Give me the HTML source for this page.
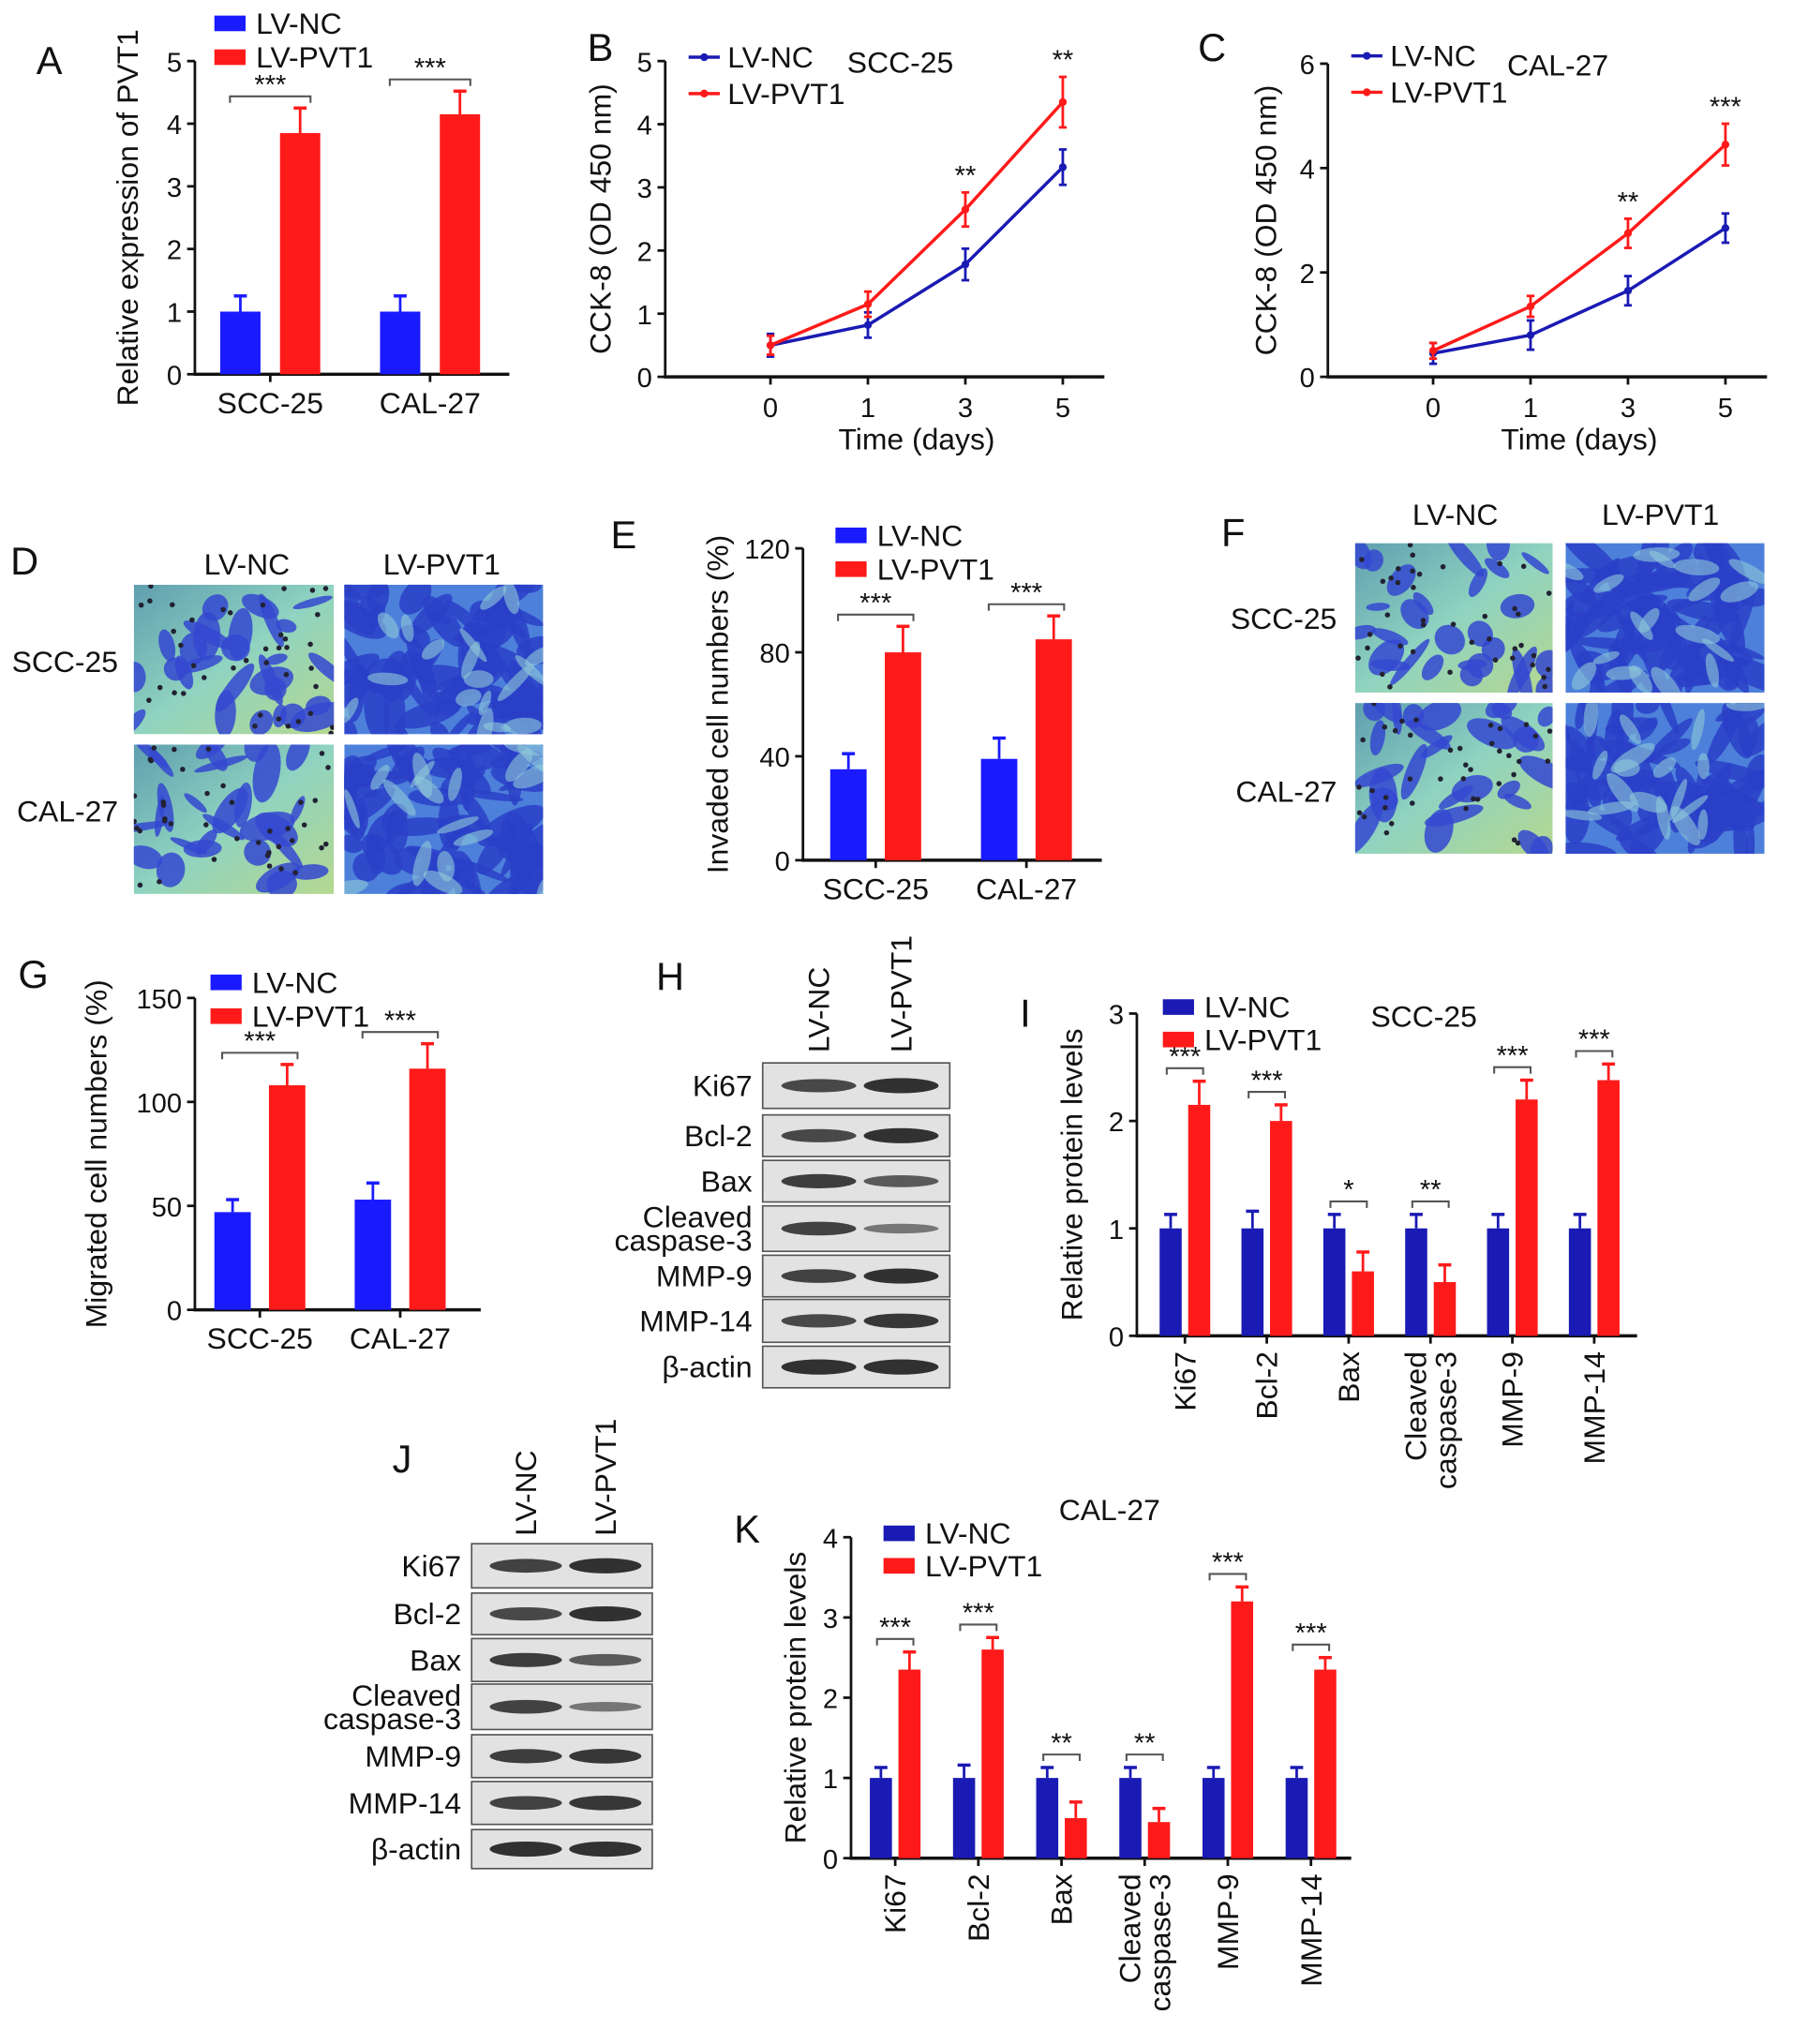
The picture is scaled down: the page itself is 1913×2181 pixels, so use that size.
<!DOCTYPE html>
<html><head><meta charset="utf-8"><style>
html,body{margin:0;padding:0;background:#fff;}
svg{display:block;font-family:"Liberation Sans",Arial,sans-serif;}
</style></head><body>
<svg id="fig" width="1913" height="2181" viewBox="0 0 1380 1573" preserveAspectRatio="none" xmlns="http://www.w3.org/2000/svg">
<defs>
<linearGradient id="bgNC" x1="0" y1="0" x2="1" y2="1"><stop offset="0" stop-color="#5f9fb0"/><stop offset="0.5" stop-color="#8fd3c0"/><stop offset="1" stop-color="#b5d890"/></linearGradient>
</defs>
<g id="root"></g>
</svg>
<script>
// ---- data ----
const aCats = ["SCC-25","CAL-27"];
const aNC = [1.0, 1.0];
const aNCerr = [0.25, 0.25];
const aPV = [3.85, 4.15];
const aPVerr = [0.4, 0.37];
const aTicks = [0,1,2,3,4,5];

const bDays = ["0","1","3","5"];
const bNC = [0.5, 0.82, 1.78, 3.32];
const bNCerr = [0.18, 0.2, 0.25, 0.28];
const bPV = [0.5, 1.15, 2.65, 4.35];
const bPVerr = [0.15, 0.2, 0.27, 0.4];
const bTicks = [0,1,2,3,4,5];

const cDays = ["0","1","3","5"];
const cNC = [0.45, 0.8, 1.65, 2.85];
const cNCerr = [0.2, 0.28, 0.28, 0.28];
const cPV = [0.5, 1.35, 2.75, 4.45];
const cPVerr = [0.15, 0.2, 0.28, 0.4];
const cTicks = [0,2,4,6];

const eCats = ["SCC-25","CAL-27"];
const eNC = [35, 39];
const eNCerr = [6, 8];
const ePV = [80, 85];
const ePVerr = [10, 9];
const eTicks = [0,40,80,120];

const gCats = ["SCC-25","CAL-27"];
const gNC = [47, 53];
const gNCerr = [6, 8];
const gPV = [108, 116];
const gPVerr = [10, 12];
const gTicks = [0,50,100,150];

const pCats = ["Ki67","Bcl-2","Bax","Cleaved caspase-3","MMP-9","MMP-14"];
const iNC = [1,1,1,1,1,1];
const iNCerr = [0.13,0.16,0.13,0.13,0.13,0.13];
const iPV = [2.15,2.0,0.6,0.5,2.2,2.38];
const iPVerr = [0.22,0.15,0.18,0.16,0.18,0.15];
const iStars = ["***","***","*","**","***","***"];
const iTicks = [0,1,2,3];

const kNC = [1,1,1,1,1,1];
const kNCerr = [0.13,0.16,0.13,0.13,0.13,0.13];
const kPV = [2.35,2.6,0.5,0.45,3.2,2.35];
const kPVerr = [0.22,0.15,0.2,0.17,0.18,0.15];
const kStars = ["***","***","**","**","***","***"];
const kTicks = [0,1,2,3,4];

const blotRows = ["Ki67","Bcl-2","Bax","Cleaved caspase-3","MMP-9","MMP-14","β-actin"];
const blotH_NC = [0.75,0.75,0.85,0.8,0.8,0.75,0.95];
const blotH_PV = [0.95,0.95,0.6,0.35,0.95,0.9,0.95];
const blotJ_NC = [0.8,0.75,0.85,0.8,0.85,0.8,0.95];
const blotJ_PV = [0.95,0.95,0.6,0.35,0.9,0.9,0.95];

// ---- helpers ----
const NS="http://www.w3.org/2000/svg";
const root=document.getElementById('root');
const FS=23, TS=21;
function el(tag,attrs,parent){const e=document.createElementNS(NS,tag);for(const k in attrs)e.setAttribute(k,attrs[k]);(parent||root).appendChild(e);return e;}
function txt(x,y,s,size,anchor,parent,extra){const t=el('text',Object.assign({x:x,y:y,'font-size':size,'text-anchor':anchor||'start',fill:'#111'},extra||{}),parent);t.textContent=s;return t;}
const BLUE='#1a1aff', RED='#ff1a1a', DBLUE='#1a1ab4';

function yAxis(g,x,y0,yTop,ticks,vmax,title,titleX){
  const ax=el('g',{},g);
  
  
  el('line',{x1:x,y1:y0+1,x2:x,y2:yTop,stroke:'#111','stroke-width':2},ax);
  ticks.forEach(v=>{const y=y0-(y0-yTop)*v/vmax;
    el('line',{x1:x-6,y1:y,x2:x,y2:y,stroke:'#111','stroke-width':2},ax);
    txt(x-10,y+8,String(v),TS,'end',ax);});
  const mid=(y0+yTop)/2;
  const t=txt(titleX,mid,title,FS,'middle',ax,{transform:`rotate(-90 ${titleX} ${mid})`});
  
  
}
function legendBars(g,x,y,c1,c2,s1,s2,gap){
  const lg=el('g',{},g);
  
  
  el('rect',{x:x,y:y-12,width:24,height:12,fill:c1},lg); txt(x+32,y+2,s1,FS,'start',lg);
  el('rect',{x:x,y:y-12+gap,width:24,height:12,fill:c2},lg); txt(x+32,y+2+gap,s2,FS,'start',lg);
}
function errUp(g,x,yv,ye,col){
  el('line',{x1:x,y1:yv,x2:x,y2:ye,stroke:col,'stroke-width':2},g);
  el('line',{x1:x-5,y1:ye,x2:x+5,y2:ye,stroke:col,'stroke-width':2.5},g);
}
function bracket(g,x1,x2,y,stars){
  el('path',{d:`M${x1} ${y+5} V${y} H${x2} V${y+5}`,fill:'none',stroke:'#555','stroke-width':1.5},g);
  txt((x1+x2)/2,y-2,stars,21,'middle',g);
}
function barChart2(o){
  const g=el('g',{});
  
  
  const sc=v=>o.y0-(o.y0-o.yTop)*v/o.vmax;
  yAxis(g,o.x,o.y0,o.yTop,o.ticks,o.vmax,o.title,o.titleX);
  el('line',{x1:o.x-1,y1:o.y0,x2:o.xEnd,y2:o.y0,stroke:'#111','stroke-width':2.5},g);
  o.cats.forEach((c,i)=>{
    const cx=o.c0+i*o.step;
    const x1=cx-o.gap/2-o.bw/2, x2=cx+o.gap/2+o.bw/2;
    const b1=el('rect',{x:x1-o.bw/2,y:sc(o.nc[i]),width:o.bw,height:o.y0-sc(o.nc[i]),fill:o.c1},g);
    
    
    errUp(g,x1,sc(o.nc[i]),sc(o.nc[i]+o.ncE[i]),o.c1);
    const b2=el('rect',{x:x2-o.bw/2,y:sc(o.pv[i]),width:o.bw,height:o.y0-sc(o.pv[i]),fill:o.c2},g);
    
    
    errUp(g,x2,sc(o.pv[i]),sc(o.pv[i]+o.pvE[i]),o.c2);
    el('line',{x1:cx,y1:o.y0,x2:cx,y2:o.y0+6,stroke:'#111','stroke-width':2},g);
    const t=txt(cx,o.y0+30,c,FS,'middle',g);
    
    
    const top=sc(o.pv[i]+o.pvE[i]);
    bracket(g,x1-8,x2+8,top-9,'***');
  });
  legendBars(g,o.lx,o.ly,o.c1,o.c2,'LV-NC','LV-PVT1',26);
  return g;
}
function lineChart(o){
  const g=el('g',{});
  
  
  const sc=v=>o.y0-(o.y0-o.yTop)*v/o.vmax;
  yAxis(g,o.x,o.y0,o.yTop,o.ticks,o.vmax,'CCK-8 (OD 450 nm)',o.titleX);
  el('line',{x1:o.x-1,y1:o.y0,x2:o.xEnd,y2:o.y0,stroke:'#111','stroke-width':2.5},g);
  const xs=o.days.map((d,i)=>o.c0+i*o.step);
  o.days.forEach((d,i)=>{el('line',{x1:xs[i],y1:o.y0,x2:xs[i],y2:o.y0+6,stroke:'#111','stroke-width':2},g);
    txt(xs[i],o.y0+31,d,TS,'middle',g);});
  txt((xs[0]+xs[3])/2,o.y0+56,'Time (days)',FS,'middle',g);
  [[o.nc,o.ncE,DBLUE,'lv-nc'],[o.pv,o.pvE,RED,'lv-pvt1']].forEach(([vals,errs,col,nm])=>{
    const p=el('polyline',{points:vals.map((v,i)=>xs[i]+','+sc(v)).join(' '),fill:'none',stroke:col,'stroke-width':2.5},g);
    
    
    vals.forEach((v,i)=>{
      el('line',{x1:xs[i],y1:sc(v-errs[i]),x2:xs[i],y2:sc(v+errs[i]),stroke:col,'stroke-width':2},g);
      el('line',{x1:xs[i]-3,y1:sc(v-errs[i]),x2:xs[i]+3,y2:sc(v-errs[i]),stroke:col,'stroke-width':2},g);
      el('line',{x1:xs[i]-3,y1:sc(v+errs[i]),x2:xs[i]+3,y2:sc(v+errs[i]),stroke:col,'stroke-width':2},g);
      const pt=el('circle',{cx:xs[i],cy:sc(v),r:3,fill:col},g);
      
      
    });
  });
  o.stars.forEach((s,i)=>{if(s){txt(xs[i],sc(o.pv[i]+o.pvE[i])-6,s,21,'middle',g);}});
  const lg=el('g',{},g);
  
  
  el('line',{x1:o.lx,y1:o.ly,x2:o.lx+24,y2:o.ly,stroke:DBLUE,'stroke-width':2.5},lg);
  el('circle',{cx:o.lx+12,cy:o.ly,r:3,fill:DBLUE},lg);
  txt(o.lx+30,o.ly+8,'LV-NC',FS,'start',lg);
  el('line',{x1:o.lx,y1:o.ly+28,x2:o.lx+24,y2:o.ly+28,stroke:RED,'stroke-width':2.5},lg);
  el('circle',{cx:o.lx+12,cy:o.ly+28,r:3,fill:RED},lg);
  txt(o.lx+30,o.ly+36,'LV-PVT1',FS,'start',lg);
  txt(o.tx,o.ty,o.cell,FS,'start',g);
}
function proteinChart(o){
  const g=el('g',{});
  
  
  const sc=v=>o.y0-(o.y0-o.yTop)*v/o.vmax;
  yAxis(g,o.x,o.y0,o.yTop,o.ticks,o.vmax,'Relative protein levels',o.titleX);
  el('line',{x1:o.x-1,y1:o.y0,x2:o.xEnd,y2:o.y0,stroke:'#111','stroke-width':2.5},g);
  pCats.forEach((c,i)=>{
    const cx=o.c0+i*o.step, bw=17;
    const x1=cx-11, x2=cx+11;
    const b1=el('rect',{x:x1-bw/2,y:sc(o.nc[i]),width:bw,height:o.y0-sc(o.nc[i]),fill:DBLUE},g);
    
    
    errUp(g,x1,sc(o.nc[i]),sc(o.nc[i]+o.ncE[i]),DBLUE);
    const b2=el('rect',{x:x2-bw/2,y:sc(o.pv[i]),width:bw,height:o.y0-sc(o.pv[i]),fill:RED},g);
    
    
    errUp(g,x2,sc(o.pv[i]),sc(o.pv[i]+o.pvE[i]),RED);
    el('line',{x1:cx,y1:o.y0,x2:cx,y2:o.y0+6,stroke:'#111','stroke-width':2},g);
    const top=Math.max(o.nc[i]+o.ncE[i],o.pv[i]+o.pvE[i]);
    bracket(g,x1-3,x2+3,sc(top)-10,o.stars[i]);
    const lines=c.indexOf(' ')>0?c.split(' '):[c];
    const ly=o.y0+12;
    lines.forEach((s,k)=>{
      const lx=cx+8+(k-(lines.length-1)/2)*23;
      const t=txt(lx,ly,s,FS,'end',g,{transform:`rotate(-90 ${lx} ${ly})`});
      
      
    });
  });
  legendBars(g,o.lx,o.ly,DBLUE,RED,'LV-NC','LV-PVT1',25);
  txt(o.tx,o.ty,o.cell,FS,'start',g);
}
function blot(o){
  const g=el('g',{});
  
  
  blotRows.forEach((r,i)=>{
    const y=o.rows[i][0], h=o.rows[i][1]-o.rows[i][0];
    const box=el('rect',{x:o.x,y:y,width:o.w,height:h,fill:'#e2e2e2',stroke:'#555','stroke-width':1.2},g);
    
    
    [[o.nc[i],o.x+o.w*0.3],[o.pv[i],o.x+o.w*0.74]].forEach(([s,cx])=>{
      const bh=5+7*s;
      el('ellipse',{cx:cx,cy:y+h/2,rx:o.w*0.2,ry:bh/2,fill:'#222','fill-opacity':0.35+0.6*s},g);
    });
    const parts=r==='Cleaved caspase-3'?['Cleaved','caspase-3']:[r];
    parts.forEach((p,k)=>txt(o.x-8,y+h/2+8+(parts.length>1?(k-0.5)*18:0),p,FS,'end',g));
  });
  [['LV-NC',o.x+o.w*0.3],['LV-PVT1',o.x+o.w*0.74]].forEach(([s,cx])=>{
    txt(cx+8,o.hy,s,FS,'start',g,{transform:`rotate(-90 ${cx+8} ${o.hy})`});
  });
}
// cell-image panels (decorative)
let seed=7;function rnd(){seed=(seed*16807)%2147483647;return seed/2147483647;}
function cellImg(x,y,w,h,dense,name){
  const g=el('g',{});
  
  
  const cp=el('clipPath',{id:'cp'+name},g);
  el('rect',{x:x,y:y,width:w,height:h},cp);
  const gg=el('g',{'clip-path':`url(#cp${name})`},g);
  el('rect',{x:x,y:y,width:w,height:h,fill:dense?'#4d80da':'url(#bgNC)'},gg);
  const n=dense?70:28;
  for(let i=0;i<n;i++){
    const cx=x+rnd()*w, cy=y+rnd()*h, rx=8+rnd()*(dense?22:16), ry=3+rnd()*8, a=rnd()*180;
    el('ellipse',{cx:cx,cy:cy,rx:rx,ry:ry,fill:dense?'#2a3fc8':'#3448d0','fill-opacity':0.85,transform:`rotate(${a} ${cx} ${cy})`},gg);
  }
  if(dense){for(let i=0;i<18;i++){const cx=x+rnd()*w, cy=y+rnd()*h;
    el('ellipse',{cx:cx,cy:cy,rx:10+rnd()*10,ry:3+rnd()*4,fill:'#8fc9d8','fill-opacity':0.6,transform:`rotate(${rnd()*180} ${cx} ${cy})`},gg);}}
  else{for(let i=0;i<40;i++){el('circle',{cx:x+rnd()*w,cy:y+rnd()*h,r:2,fill:'#223'},gg);}}
}

// ---- panel letters ----
[['A',28,57],['B',452,47],['C',922,47],['D',8,442],['E',470,422],['F',940,420],['G',14,760],['H',505,762],['I',785,790],['J',302,1133],['K',565,1187]].forEach(([s,x,y])=>{
  const t=txt(x,y,s,30,'start');
  
  
});

barChart2({name:'panel-a-chart',x:150,y0:288,yTop:47,vmax:5,ticks:aTicks,title:'Relative expression of PVT1',titleX:106,xEnd:392,cats:aCats,c0:208,step:123,bw:31,gap:15,nc:aNC,ncE:aNCerr,pv:aPV,pvE:aPVerr,c1:BLUE,c2:RED,lx:165,ly:24});
lineChart({name:'panel-b-chart',x:512,y0:290,yTop:47,vmax:5,ticks:bTicks,titleX:470,xEnd:850,days:bDays,c0:593,step:75,nc:bNC,ncE:bNCerr,pv:bPV,pvE:bPVerr,stars:["","","**","**"],lx:530,ly:44,tx:652,ty:56,cell:'SCC-25'});
lineChart({name:'panel-c-chart',x:1022,y0:290,yTop:49,vmax:6,ticks:cTicks,titleX:982,xEnd:1360,days:cDays,c0:1103,step:75,nc:cNC,ncE:cNCerr,pv:cPV,pvE:cPVerr,stars:["","","**","***"],lx:1040,ly:43,tx:1160,ty:58,cell:'CAL-27'});
barChart2({name:'panel-e-chart',x:618,y0:662,yTop:422,vmax:120,ticks:eTicks,title:'Invaded cell numbers (%)',titleX:560,xEnd:848,cats:eCats,c0:674,step:116,bw:28,gap:14,nc:eNC,ncE:eNCerr,pv:ePV,pvE:ePVerr,c1:BLUE,c2:RED,lx:643,ly:418});
barChart2({name:'panel-g-chart',x:150,y0:1008,yTop:768,vmax:150,ticks:gTicks,title:'Migrated cell numbers (%)',titleX:82,xEnd:370,cats:gCats,c0:200,step:108,bw:28,gap:14,nc:gNC,ncE:gNCerr,pv:gPV,pvE:gPVerr,c1:BLUE,c2:RED,lx:162,ly:762});
proteinChart({name:'panel-i-chart',x:875,y0:1028,yTop:780,vmax:3,ticks:iTicks,titleX:833,xEnd:1260,c0:912,step:63,nc:iNC,ncE:iNCerr,pv:iPV,pvE:iPVerr,stars:iStars,lx:895,ly:781,tx:1055,ty:790,cell:'SCC-25'});
proteinChart({name:'panel-k-chart',x:655,y0:1430,yTop:1183,vmax:4,ticks:kTicks,titleX:620,xEnd:1040,c0:689,step:64,nc:kNC,ncE:kNCerr,pv:kPV,pvE:kPVerr,stars:kStars,lx:680,ly:1186,tx:815,ty:1170,cell:'CAL-27'});
blot({name:'panel-h-blot',x:587,w:144,hy:810,rows:[[818,853],[858,890],[893,925],[928,963],[966,998],[1000,1033],[1036,1068]],nc:blotH_NC,pv:blotH_PV});
blot({name:'panel-j-blot',x:363,w:139,hy:1182,rows:[[1188,1222],[1226,1258],[1261,1294],[1296,1331],[1335,1368],[1371,1404],[1408,1438]],nc:blotJ_NC,pv:blotJ_PV});

// D
txt(190,442,'LV-NC',FS,'middle'); txt(340,442,'LV-PVT1',FS,'middle');
txt(50,517,'SCC-25',FS,'middle'); txt(52,632,'CAL-27',FS,'middle');
cellImg(103,450,154,115,false,'d-scc25-nc'); cellImg(265,450,153,115,true,'d-scc25-pvt1');
cellImg(103,573,154,115,false,'d-cal27-nc'); cellImg(265,573,153,115,true,'d-cal27-pvt1');
// F
txt(1120,404,'LV-NC',FS,'middle'); txt(1278,404,'LV-PVT1',FS,'middle');
txt(988,484,'SCC-25',FS,'middle'); txt(990,617,'CAL-27',FS,'middle');
cellImg(1043,418,152,115,false,'f-scc25-nc'); cellImg(1205,418,153,115,true,'f-scc25-pvt1');
cellImg(1043,541,152,116,false,'f-cal27-nc'); cellImg(1205,541,153,116,true,'f-cal27-pvt1');
</script>
</body></html>
